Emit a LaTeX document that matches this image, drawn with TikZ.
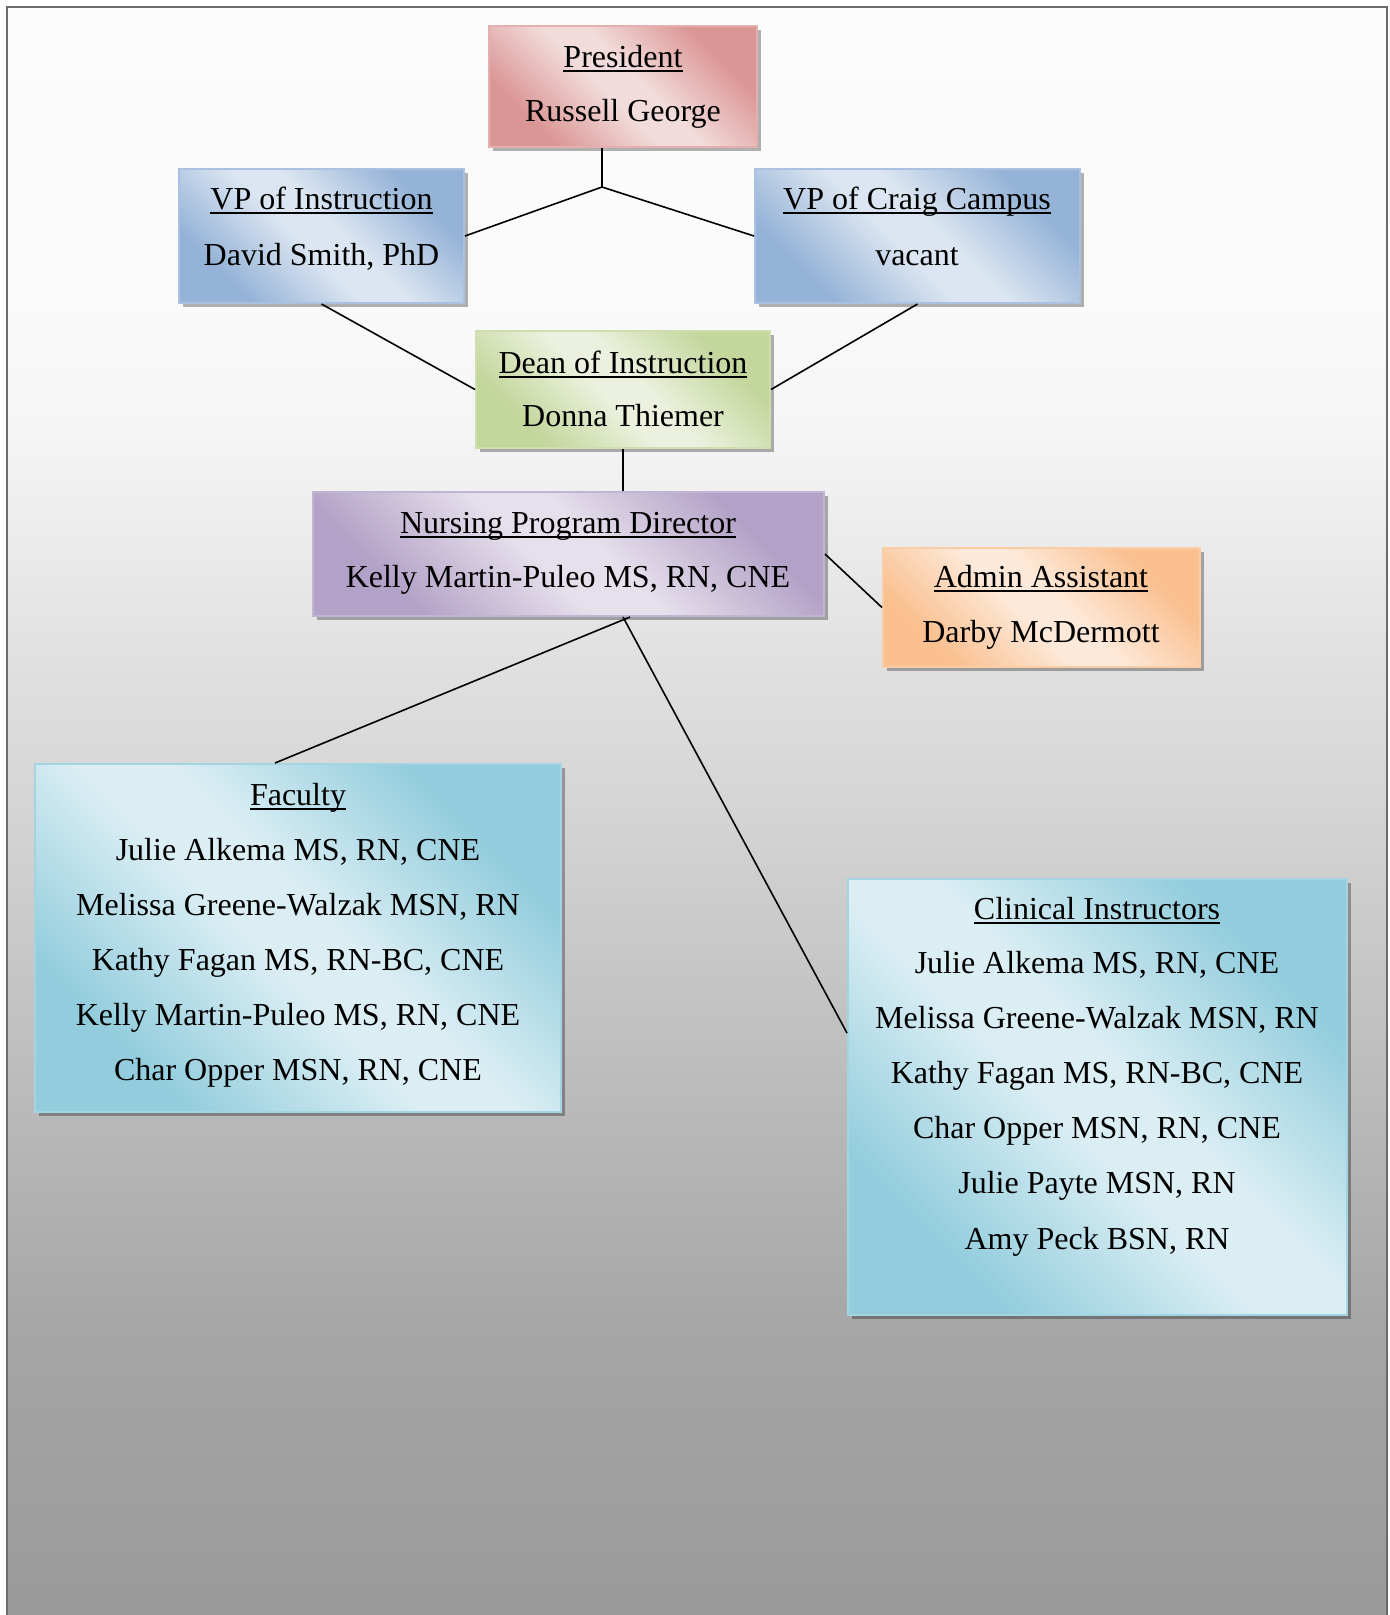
\documentclass[tikz,border=0pt]{standalone}
\usepackage{fontspec}
\setmainfont{Liberation Serif}
\usepackage{tikz}
\usetikzlibrary{calc,shadows}
\definecolor{rdk}{HTML}{DA9694}\definecolor{rlt}{HTML}{F2DCDB}
\definecolor{bdk}{HTML}{95B3D7}\definecolor{blt}{HTML}{DCE6F2}
\definecolor{gdk}{HTML}{C3D69B}\definecolor{glt}{HTML}{EBF1DE}
\definecolor{pdk}{HTML}{B3A2C7}\definecolor{plt}{HTML}{E6E0EC}
\definecolor{odk}{HTML}{FAC090}\definecolor{olt}{HTML}{FDE9D9}
\definecolor{adk}{HTML}{93CDDD}\definecolor{alt}{HTML}{DBEEF4}
\definecolor{framec}{HTML}{6B6B6B}
\pgfdeclarehorizontalshading{redfx}{100bp}{color(0bp)=(rdk); color(27bp)=(rdk); color(46bp)=(rlt); color(54bp)=(rlt); color(73bp)=(rdk); color(100bp)=(rdk)}
\pgfdeclarehorizontalshading{bluefx}{100bp}{color(0bp)=(bdk); color(27bp)=(bdk); color(46bp)=(blt); color(54bp)=(blt); color(73bp)=(bdk); color(100bp)=(bdk)}
\pgfdeclarehorizontalshading{greenfx}{100bp}{color(0bp)=(gdk); color(27bp)=(gdk); color(46bp)=(glt); color(54bp)=(glt); color(73bp)=(gdk); color(100bp)=(gdk)}
\pgfdeclarehorizontalshading{purplefx}{100bp}{color(0bp)=(pdk); color(27bp)=(pdk); color(46bp)=(plt); color(54bp)=(plt); color(73bp)=(pdk); color(100bp)=(pdk)}
\pgfdeclarehorizontalshading{orangefx}{100bp}{color(0bp)=(odk); color(27bp)=(odk); color(46bp)=(olt); color(54bp)=(olt); color(73bp)=(odk); color(100bp)=(odk)}
\pgfdeclarehorizontalshading{aquafx}{100bp}{color(0bp)=(adk); color(27bp)=(adk); color(46bp)=(alt); color(54bp)=(alt); color(73bp)=(adk); color(100bp)=(adk)}
\newcommand\ulx[1]{{\setbox0=\hbox{#1}\rlap{\rule[-5pt]{\wd0}{1.8pt}}\box0}}
\newcommand\bx[6]{\node[box,#2] (#1) at ({(#3+#5)/2},{(#4+#6)/2}) [minimum width={#5-#3}, minimum height={#6-#4}] {};}
\tikzset{
  box/.style={rectangle, inner sep=0pt, line width=2pt, shading angle=45,
    general shadow={fill=black, opacity=0.3, shadow xshift=4pt, shadow yshift=-4pt}},
  redbox/.style={shade, shading=redfx, draw=rdk!75!white},
  bluebox/.style={shade, shading=bluefx, draw=bdk!80!white},
  greenbox/.style={shade, shading=greenfx, draw=gdk!80!white},
  purplebox/.style={shade, shading=purplefx, draw=pdk!80!white},
  orangebox/.style={shade, shading=orangefx, draw=odk!80!white},
  aquabox/.style={shade, shading=aquafx, draw=adk!85!white},
  txt/.style={anchor=base, inner sep=0pt, font=\fontsize{32}{38}\selectfont},
  link/.style={line width=1.6pt, black}
}
\begin{document}
\begin{tikzpicture}[x=1pt,y=-1pt]
\useasboundingbox (0,0) rectangle (1390,1615);
\fill[white] (0,0) rectangle (1390,1615);
% background gradient
\fill[top color={rgb,255:red,252;green,252;blue,252}, bottom color={rgb,255:red,250;green,250;blue,250}] (7,7) rectangle (1387,301);
\fill[top color={rgb,255:red,250;green,250;blue,250}, bottom color={rgb,255:red,245;green,245;blue,245}] (7,300) rectangle (1387,431);
\fill[top color={rgb,255:red,245;green,245;blue,245}, bottom color={rgb,255:red,226;green,226;blue,226}] (7,430) rectangle (1387,641);
\fill[top color={rgb,255:red,226;green,226;blue,226}, bottom color={rgb,255:red,208;green,208;blue,208}] (7,640) rectangle (1387,861);
\fill[top color={rgb,255:red,208;green,208;blue,208}, bottom color={rgb,255:red,186;green,186;blue,186}] (7,860) rectangle (1387,1101);
\fill[top color={rgb,255:red,186;green,186;blue,186}, bottom color={rgb,255:red,165;green,165;blue,165}] (7,1100) rectangle (1387,1341);
\fill[top color={rgb,255:red,165;green,165;blue,165}, bottom color={rgb,255:red,154;green,154;blue,154}] (7,1340) rectangle (1387,1620);
\draw[framec, line width=2.5pt] (7,1630) -- (7,7) -- (1387,7) -- (1387,1630);

% boxes
\bx{pres}{redbox}{489}{26}{757}{147}
\bx{vpi}{bluebox}{179}{169}{464}{303}
\bx{vpc}{bluebox}{755}{169}{1080}{303}
\bx{dean}{greenbox}{476}{331}{770}{448}
\bx{nurs}{purplebox}{313}{492}{824}{616}
\bx{adm}{orangebox}{883}{548}{1200}{667}
\bx{fac}{aquabox}{35}{764}{561}{1112}
\bx{cli}{aquabox}{848}{879}{1347}{1315}

% connectors
\coordinate (j) at (602,187);
\draw[link] (pres.south -| j) -- (j);
\draw[link] (vpi.east) -- (j) -- (vpc.west);
\draw[link] (vpi.south) -- (dean.west);
\draw[link] (vpc.south) -- (dean.east);
\draw[link] (dean.south) -- (dean.south |- nurs.north);
\draw[link] (nurs.east) -- (adm.west);
\draw[link] ($(nurs.south -| dean.south)+(7,0)$) -- ($(fac.north)+(-23,0)$);
\draw[link] (nurs.south -| dean.south) -- ($(cli.west)+(0,-64)$);

% texts
\node[txt] (t1) at (623,67) {\ulx{President}};
\node[txt] (t2) at (623,121) {Russell George};
\node[txt] (t3) at (321.5,209) {\ulx{VP of Instruction}};
\node[txt] (t4) at (321.5,265) {David Smith, PhD};
\node[txt] (t5) at (917,209) {\ulx{VP of Craig Campus}};
\node[txt] (t6) at (917,265) {vacant};
\node[txt] (t7) at (623,373) {\ulx{Dean of Instruction}};
\node[txt] (t8) at (623,426) {Donna Thiemer};
\node[txt] (t9) at (568,533) {\ulx{Nursing Program Director}};
\node[txt] (t10) at (568,587) {Kelly Martin-Puleo MS, RN, CNE};
\node[txt] (t11) at (1041,587) {\ulx{Admin Assistant}};
\node[txt] (t12) at (1041,642) {Darby McDermott};

\node[txt] (f0) at (298,805) {\ulx{Faculty}};
\node[txt] (f1) at (298,860) {Julie Alkema MS, RN, CNE};
\node[txt] (f2) at (298,915) {Melissa Greene-Walzak MSN, RN};
\node[txt] (f3) at (298,970) {Kathy Fagan MS, RN-BC, CNE};
\node[txt] (f4) at (298,1025) {Kelly Martin-Puleo MS, RN, CNE};
\node[txt] (f5) at (298,1080) {Char Opper MSN, RN, CNE};

\node[txt] (c0) at (1097,919) {\ulx{Clinical Instructors}};
\node[txt] (c1) at (1097,973) {Julie Alkema MS, RN, CNE};
\node[txt] (c2) at (1097,1028) {Melissa Greene-Walzak MSN, RN};
\node[txt] (c3) at (1097,1083) {Kathy Fagan MS, RN-BC, CNE};
\node[txt] (c4) at (1097,1138) {Char Opper MSN, RN, CNE};
\node[txt] (c5) at (1097,1193) {Julie Payte MSN, RN};
\node[txt] (c6) at (1097,1249) {Amy Peck BSN, RN};
\end{tikzpicture}
\end{document}
